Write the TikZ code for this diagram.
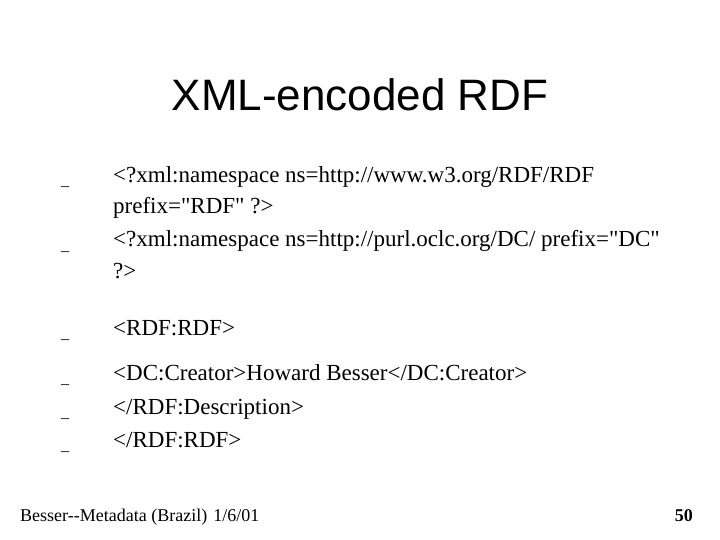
\documentclass[tikz,border=0pt]{standalone}
\usepackage{fontspec}
\setmainfont{Liberation Serif}[Ligatures=TeXOff]
\newfontfamily\titlefont{Liberation Sans}
\begin{document}
\begin{tikzpicture}[x=1pt,y=-1pt,
  body/.style={anchor=base west,inner sep=0pt,font=\fontsize{23}{27}\selectfont},
  bul/.style={anchor=base west,inner sep=0pt,font=\fontsize{16}{18}\selectfont}]
\useasboundingbox (0,0) rectangle (720,540);
\node[anchor=base,inner sep=0pt,font=\titlefont\fontsize{44}{50}\selectfont] (title) at (360,111) {XML-encoded RDF};
\foreach \y/\n in {186/b1,250/b2,338/b3,383/b4,417/b5,450/b6}
  \node[bul] (\n) at (61,\y) {\_};
\node[body] (l1) at (113,183) {<?xml:namespace ns=http://www.w3.org/RDF/RDF};
\node[body] (l2) at (113,214) {prefix="RDF" ?>};
\node[body] (l3) at (113,247) {<?xml:namespace ns=http://purl.oclc.org/DC/ prefix="DC"};
\node[body] (l4) at (113,278) {?>};
\node[body] (l5) at (113,335) {<RDF:RDF>};
\node[body] (l6) at (113,380) {<DC:Creator>Howard Besser</DC:Creator>};
\node[body] (l7) at (113,414) {</RDF:Description>};
\node[body] (l8) at (113,447) {</RDF:RDF>};
\node[anchor=base west,inner sep=0pt,font=\fontsize{18}{20}\selectfont] (foot) at (20,521) {Besser--Metadata (Brazil)\hspace{6pt}1/6/01};
\node[anchor=base east,inner sep=0pt,font=\bfseries\fontsize{18}{20}\selectfont] (num) at (693,521) {50};
\end{tikzpicture}
\end{document}
